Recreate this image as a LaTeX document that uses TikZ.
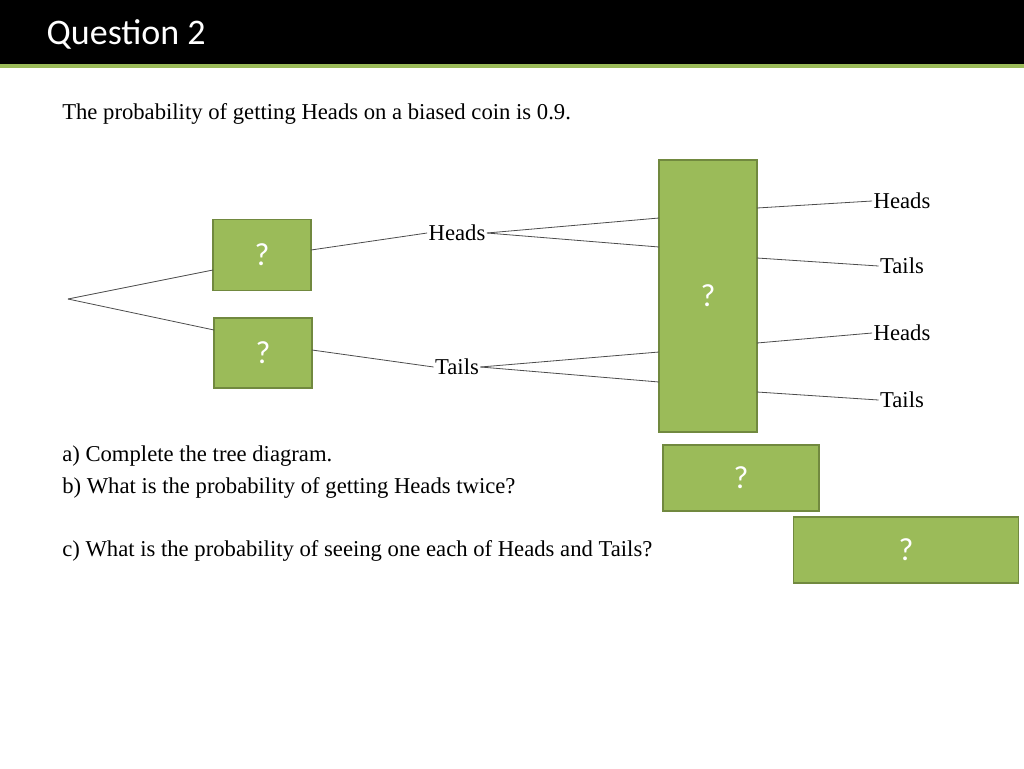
\documentclass[tikz,border=0pt]{standalone}
\usepackage{fontspec}
\setmainfont{Liberation Serif}
\newfontfamily\titlefont{Carlito}
\definecolor{boxgreen}{HTML}{9BBB59}
\definecolor{boxedge}{HTML}{71893F}
\tikzset{
    answer/.style = {
        draw=boxedge, fill=boxgreen, line width=1.2pt,
        text=white, font=\titlefont\fontsize{24}{28}\selectfont,
        inner sep=0pt,
        },
    branch/.style = {
        draw=black!70, line width=0.6pt,
        },
    outcome/.style = {
        font=\fontsize{17}{20}\selectfont, inner sep=1pt,
        },
    question/.style = {
        font=\fontsize{17}{20}\selectfont, anchor=west, inner sep=0pt,
        },
}
\begin{document}
\begin{tikzpicture}[x=0.75pt, y=-0.75pt]
    \useasboundingbox (0,0) rectangle (1024,768);
    \fill[black] (0,0) rectangle (1024,64);
    \fill[boxgreen] (0,64) rectangle (1024,68);
    \node[anchor=west, text=white, font=\titlefont\fontsize{27}{30}\selectfont] (title) at (42,34) {Question 2};

    \node[question] (intro) at (62,114) {The probability of getting Heads on a biased coin is 0.9.};
    \node[question] (qa) at (62,456) {a) Complete the tree diagram.};
    \node[question] (qb) at (62,488) {b) What is the probability of getting Heads twice?};
    \node[question] (qc) at (62,551) {c) What is the probability of seeing one each of Heads and Tails?};

    % boxes
    \node[answer, minimum width=98*0.75pt, minimum height=71*0.75pt] (p1) at (262,255) {?};
    \node[answer, minimum width=98*0.75pt, minimum height=70*0.75pt] (p2) at (263,353) {?};
    \node[answer, minimum width=98*0.75pt, minimum height=272*0.75pt] (p3) at (708,296) {?};
    \node[answer, minimum width=156*0.75pt, minimum height=66*0.75pt] (pb) at (741,478) {?};
    \node[answer, minimum width=225*0.75pt, minimum height=66*0.75pt] (pc) at (906,550) {?};

    % outcomes
    \node[outcome] (h1) at (457,233) {Heads};
    \node[outcome] (t1) at (457,367) {Tails};
    \node[outcome] (hh) at (902,201) {Heads};
    \node[outcome] (ht) at (902,266) {Tails};
    \node[outcome] (th) at (902,333) {Heads};
    \node[outcome] (tt) at (902,400) {Tails};

    \coordinate (root) at (68,299);
    \draw[branch] (root) -- (213,270);
    \draw[branch] (root) -- (214,330);
    \draw[branch] (311,250) -- (h1.west);
    \draw[branch] (312,350) -- (t1.west);
    \draw[branch] (h1.east) -- (659,218);
    \draw[branch] (h1.east) -- (659,247);
    \draw[branch] (t1.east) -- (659,352);
    \draw[branch] (t1.east) -- (659,382);
    \draw[branch] (757,208) -- (hh.west);
    \draw[branch] (757,258) -- (ht.west);
    \draw[branch] (757,343) -- (th.west);
    \draw[branch] (757,392) -- (tt.west);
\end{tikzpicture}
\end{document}
